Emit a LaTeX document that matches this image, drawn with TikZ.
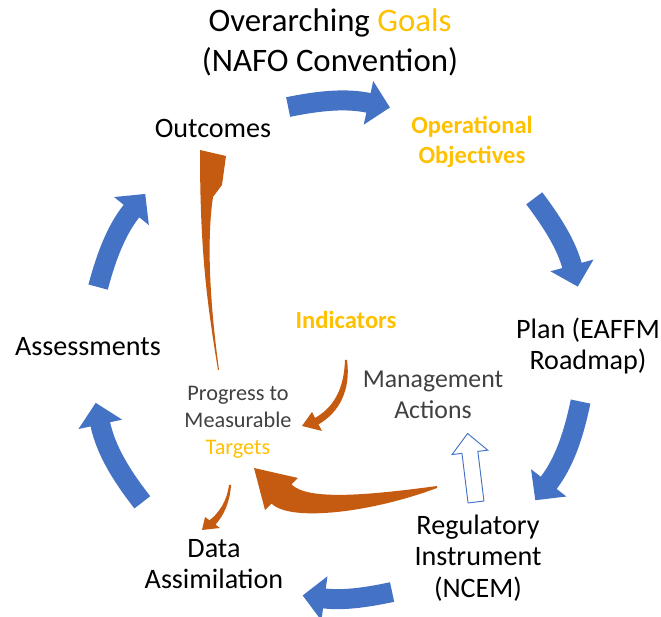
\documentclass[tikz,border=0pt]{standalone}
\usepackage{fontspec}
\setmainfont{Carlito}
\usetikzlibrary{arrows.meta,positioning}
\definecolor{cycblue}{RGB}{68,114,196}
\definecolor{cycorange}{RGB}{197,90,17}
\definecolor{cycgold}{RGB}{255,192,0}
\definecolor{cycgrey}{RGB}{64,64,64}

\begin{document}
\begin{tikzpicture}[x=0.03cm, y=0.03cm,
    stage/.style={align=center, inner sep=1pt,
                  font=\fontsize{24}{27}\selectfont},
    goal/.style={align=center, inner sep=1pt, text=cycgold,
                 font=\fontsize{21}{25.5}\selectfont\bfseries},
    note/.style={align=center, inner sep=1pt, text=cycgrey,
                 font=\fontsize{19}{23}\selectfont},
    cyc/.style={cycblue, line width=0.6cm,
                -{Triangle[length=0.66cm, width=1.3cm]}},
    feed/.style={fill=cycorange, draw=none},
  ]
  \useasboundingbox (0,0) rectangle (661,617);

  % Stufen des Kreislaufs
  \node[stage, font=\fontsize{28}{34}\selectfont] (goals) at (330,575)
    {Overarching \textcolor{cycgold}{Goals}\\(NAFO Convention)};
  \node[goal] (opobj) at (472,475) {Operational\\Objectives};
  \node[stage] (plan) at (588,271) {Plan (EAFFM\\Roadmap)};
  \node[stage] (reg) at (478,59) {Regulatory\\Instrument\\(NCEM)};
  \node[stage] (data) at (214,53) {Data\\Assimilation};
  \node[stage] (assess) at (88,270) {Assessments};
  \node[stage] (outc) at (213,489) {Outcomes};

  % Innere Elemente
  \node[goal] (ind) at (346,297) {Indicators};
  \node[note] (prog) at (238,195)
    {Progress to\\Measurable\\\textcolor{cycgold}{Targets}};
  \node[note, font=\fontsize{22}{26}\selectfont] (mgmt) at (433,222)
    {Management\\Actions};

  % Blaue Pfeile
  \coordinate (C) at (338,267);
  \foreach \n/\a/\b/\k in {1/101.6/77.9/12, 2/37.7/14.8/11, 3/-12/-37.3/13,
                          4/-77.4/-98.2/10, 5/-142.1/-167.7/13, 6/165.3/141/12} {
    \path (C) ++(\a:248) coordinate (s\n) (C) ++(\b:248) coordinate (e\n);
    \draw[cyc] (s\n) to[bend left=\k] (e\n);
  }

  % Orange Pfeile
  \fill[feed] (218,247) .. controls (206,320) and (200,370) .. (200,467)
    -- (226,461) -- (222,432) -- (213,420)
    .. controls (207,380) and (209,320) .. (219,247) -- cycle;
  \fill[feed] (347,257) .. controls (351,228) and (340,205) .. (318.5,192.6)
    -- (322,186) -- (302,191) -- (312,205) -- (315,199)
    .. controls (334,210) and (344,228) .. (345,257) -- cycle;
  \fill[feed] (437,131) .. controls (370,122) and (308,116) .. (291.4,132.6)
    -- (298,139) -- (254,149) -- (265,107) -- (271.6,113.4)
    .. controls (290,95) and (370,104) .. (437,129) -- cycle;
  \fill[feed] (231,132) .. controls (230,115) and (224,102) .. (215.5,92.3)
    -- (220,89) -- (202,87) -- (205,100) -- (209.5,96.7)
    .. controls (219,104) and (227,116) .. (229,132) -- cycle;

  % Weisser Pfeil
  \begin{scope}[shift={(476,115)}, rotate=7]
    \draw[cycblue, fill=white, line width=0.8pt]
      (-8,0) -- (-8,50) -- (-18,50) -- (0,69) -- (18,50) -- (8,50) -- (8,0) -- cycle;
  \end{scope}
\end{tikzpicture}
\end{document}
